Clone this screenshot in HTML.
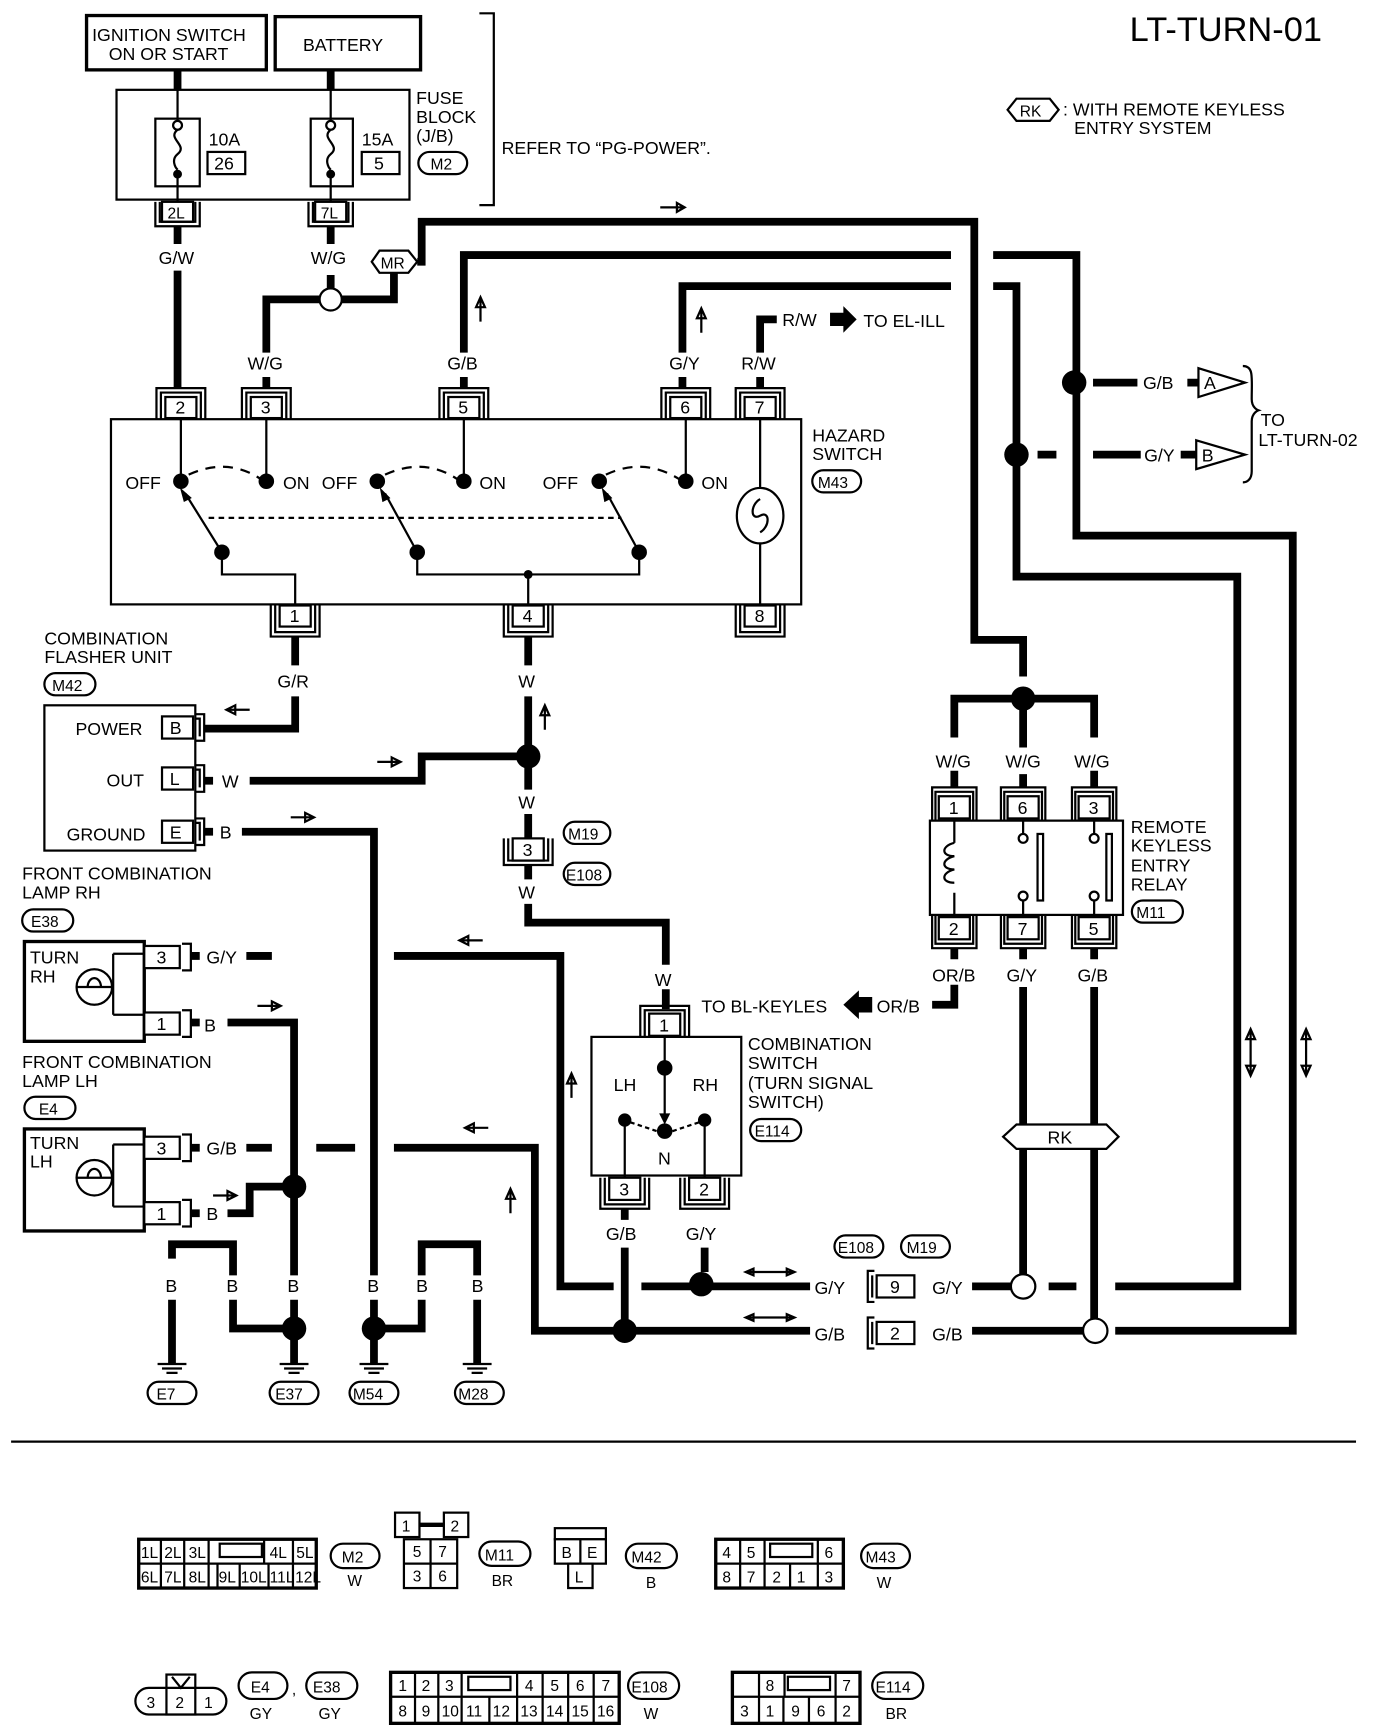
<!DOCTYPE html>
<html><head><meta charset="utf-8"><style>
html,body{margin:0;padding:0;background:#fff}
svg{display:block}
text{font-family:"Liberation Sans",sans-serif;fill:#000}
.t{font-size:16px}
.s{font-size:14px}
.w{stroke:#000;stroke-width:7;fill:none}
.n{stroke:#000;stroke-width:2;fill:none}
.b{stroke:#000;stroke-width:2;fill:#fff}
</style></head><body>
<svg width="1376" height="1730" viewBox="0 0 1240 1560" preserveAspectRatio="none" xmlns="http://www.w3.org/2000/svg">
<text x="1018" y="37" style="font-size:31px">LT-TURN-01</text>
<polygon points="908,99 916,89 946,89 954,99 946,109 916,109" class="b"/>
<text x="919" y="105" class="s">RK</text>
<text x="958" y="104" class="t">: WITH REMOTE KEYLESS</text>
<text x="968" y="121" class="t">ENTRY SYSTEM</text>

<rect x="78" y="14" width="162" height="49" class="b" style="stroke-width:3"/>
<text x="83" y="37" class="t">IGNITION SWITCH</text><text x="98" y="54" class="t">ON OR START</text>
<rect x="248" y="15" width="131" height="48" class="b" style="stroke-width:3"/>
<text x="273" y="46" class="t">BATTERY</text>
<path d="M160,63V81M298,63V81" class="w"/>
<rect x="105" y="81" width="264" height="99" class="b"/>
<rect x="140" y="107" width="40" height="61" class="b"/>
<rect x="280" y="107" width="38" height="61" class="b"/>
<path d="M160,81V112M160,158V182M298,81V112M298,158V182" class="n"/>
<circle cx="160" cy="113" r="4" class="b"/><circle cx="160" cy="157" r="4" fill="#000"/>
<circle cx="298" cy="113" r="4" class="b"/><circle cx="298" cy="157" r="4" fill="#000"/>
<path d="M160,117 c-10,8 10,14 0,22 c-6,5 -2,12 0,14 M298,117 c-10,8 10,14 0,22 c-6,5 -2,12 0,14" class="n"/>
<text x="188" y="131" class="t">10A</text><rect x="187" y="137" width="34" height="20" class="b"/><text x="193" y="153" class="t">26</text>
<text x="326" y="131" class="t">15A</text><rect x="326" y="137" width="34" height="20" class="b"/><text x="337" y="153" class="t">5</text>
<text x="375" y="94" class="t">FUSE</text><text x="375" y="111" class="t">BLOCK</text><text x="375" y="128" class="t">(J/B)</text>
<rect x="377" y="137" width="44" height="20" rx="10" class="b"/><text x="388" y="153" class="s">M2</text>
<path d="M432,12H445V185H432" class="n"/>
<text x="452" y="139" class="t">REFER TO “PG-POWER”.</text>

<g class="n">
<rect x="146" y="182" width="28" height="18" class="b"/><path d="M140,182V204H180V182M144,182V200H176V182"/>
<rect x="284" y="182" width="28" height="18" class="b"/><path d="M278,182V204H318V182M282,182V200H314V182"/>
</g>
<text x="151" y="197" class="s">2L</text><text x="289" y="197" class="s">7L</text>

<path d="M160,204V220M160,244V350" class="w"/>
<text x="143" y="238" class="t">G/W</text>
<path d="M298,204V220M298,248V260" class="w"/>
<text x="280" y="238" class="t">W/G</text>
<circle cx="298" cy="270" r="10" class="b"/>
<path d="M288,270H240V318M240,340V350M308,270H355V246" class="w"/>
<text x="223" y="333" class="t">W/G</text>
<polygon points="335,236 342,226 368,226 376,236 368,246 342,246" class="b"/>
<text x="343" y="242" class="s">MR</text>
<path d="M376,236H380V200H878V577H922V610" class="w"/>
<path d="M595,187H615M610,183L617,187L610,191Z" class="n"/>
<path d="M418,350V340M418,318V230H857M895,230H970V483H1165V1200H1005" class="w"/>
<text x="403" y="333" class="t">G/B</text>
<path d="M433,290V270M429,277L433,268L437,277Z" class="n"/>
<path d="M615,350V340M615,318V258H857M895,258H916V520H1115V1160H1005" class="w"/>
<text x="603" y="333" class="t">G/Y</text>
<path d="M632,300V280M628,287L632,278L636,287Z" class="n"/>
<path d="M685,350V340M685,318V288H700" class="w"/>
<text x="668" y="333" class="t">R/W</text>
<text x="705" y="294" class="t">R/W</text>
<polygon points="748,282 760,282 760,276 772,288 760,300 760,294 748,294" fill="#000"/>
<text x="778" y="295" class="t">TO EL-ILL</text>
<circle cx="968" cy="345" r="11" fill="#000"/>
<path d="M985,345H1025M1070,345H1080" class="w"/>
<text x="1030" y="351" class="t">G/B</text>
<polygon points="1080,332 1122,345 1080,358" class="b"/><text x="1085" y="351" class="t">A</text>
<circle cx="916" cy="410" r="11" fill="#000"/>
<path d="M935,410H952M985,410H1028M1064,410H1078" class="w"/>
<text x="1031" y="416" class="t">G/Y</text>
<polygon points="1078,397 1122,410 1078,423" class="b"/><text x="1083" y="416" class="t">B</text>
<path d="M1120,330C1130,330 1128,340 1128,360C1128,368 1134,370 1134,370C1134,370 1128,372 1128,380V425C1128,432 1124,435 1120,435" class="n"/>
<text x="1136" y="384" class="t">TO</text><text x="1134" y="402" class="t">LT-TURN-02</text>

<g>
<rect x="100" y="378" width="622" height="167" class="b"/>
<g class="n">
<rect x="149" y="358" width="28" height="19" class="b"/><path d="M141,378V350H185V378M145,378V354H181V378"/>
<rect x="226" y="358" width="28" height="19" class="b"/><path d="M218,378V350H262V378M222,378V354H258V378"/>
<rect x="404" y="358" width="28" height="19" class="b"/><path d="M396,378V350H440V378M400,378V354H436V378"/>
<rect x="604" y="358" width="28" height="19" class="b"/><path d="M596,378V350H640V378M600,378V354H636V378"/>
<rect x="671" y="358" width="28" height="19" class="b"/><path d="M663,378V350H707V378M667,378V354H703V378"/>
<rect x="252" y="546" width="28" height="19" class="b"/><path d="M244,546V574H288V546M248,546V570H284V546"/>
<rect x="462" y="546" width="28" height="19" class="b"/><path d="M454,546V574H498V546M458,546V570H494V546"/>
<rect x="671" y="546" width="28" height="19" class="b"/><path d="M663,546V574H707V546M667,546V570H703V546"/>
</g>
<g class="t"><text x="158" y="373">2</text><text x="235" y="373">3</text><text x="413" y="373">5</text><text x="613" y="373">6</text><text x="680" y="373">7</text>
<text x="261" y="561">1</text><text x="471" y="561">4</text><text x="680" y="561">8</text></g>
<path d="M163,378V434M240,378V434M418,378V434M618,378V434M685,378V545" class="n"/>
<path d="M170,428Q205,412 235,432M347,428Q382,412 412,432M546,428Q580,412 612,432" class="n" stroke-dasharray="9,7"/>
<circle cx="163" cy="434" r="7" fill="#000"/><circle cx="240" cy="434" r="7" fill="#000"/>
<circle cx="340" cy="434" r="7" fill="#000"/><circle cx="418" cy="434" r="7" fill="#000"/>
<circle cx="540" cy="434" r="7" fill="#000"/><circle cx="618" cy="434" r="7" fill="#000"/>
<g class="t"><text x="113" y="441">OFF</text><text x="255" y="441">ON</text><text x="290" y="441">OFF</text><text x="432" y="441">ON</text><text x="489" y="441">OFF</text><text x="632" y="441">ON</text></g>
<path d="M200,498L167,445M376,498L347,445M576,498L547,445" class="n"/>
<path d="M163,441L172,449L166,452ZM343,441L351,449L345,452ZM543,441L551,449L545,452Z" fill="#000" stroke="#000"/>
<path d="M188,467H560" class="n" stroke-dasharray="5,4"/>
<circle cx="200" cy="498" r="7" fill="#000"/><circle cx="376" cy="498" r="7" fill="#000"/><circle cx="576" cy="498" r="7" fill="#000"/>
<path d="M200,498V518H266V546M376,498V518H576V498M476,518V546" class="n"/>
<circle cx="476" cy="518" r="4" fill="#000"/>
<ellipse cx="685" cy="465" rx="21" ry="25" class="b"/>
<path d="M685,450c-9,5 -9,20 0,15c9,-5 9,10 0,15" class="n"/>
<text x="732" y="398" class="t">HAZARD</text><text x="732" y="415" class="t">SWITCH</text>
<rect x="732" y="424" width="44" height="20" rx="10" class="b"/><text x="737" y="440" class="s">M43</text>
</g>

<text x="40" y="581" class="t">COMBINATION</text><text x="40" y="598" class="t">FLASHER UNIT</text>
<rect x="40" y="607" width="46" height="20" rx="10" class="b"/><text x="47" y="623" class="s">M42</text>
<rect x="40" y="636" width="136" height="131" class="b"/>
<g class="n">
<rect x="146" y="646" width="28" height="20" class="b"/><path d="M176,644H184V668H176M176,648H180V664"/>
<rect x="146" y="692" width="28" height="20" class="b"/><path d="M176,690H184V714H176M176,694H180V710"/>
<rect x="146" y="740" width="28" height="20" class="b"/><path d="M176,738H184V762H176M176,742H180V758"/>
</g>
<g class="t"><text x="68" y="663">POWER</text><text x="153" y="662">B</text>
<text x="96" y="709">OUT</text><text x="153" y="708">L</text>
<text x="60" y="758">GROUND</text><text x="153" y="756">E</text></g>
<path d="M266,574V600M266,628V657H184" class="w"/>
<text x="250" y="620" class="t">G/R</text>
<path d="M225,640H205M212,636L204,640L212,644Z" class="n"/>
<path d="M184,704H192M225,704H380V682H476" class="w"/>
<text x="200" y="710" class="t">W</text>
<path d="M340,687H360M353,683L361,687L353,691Z" class="n"/>
<path d="M476,574V600M476,628V712M476,734V756" class="w"/>
<text x="467" y="620" class="t">W</text>
<path d="M491,658V638M487,645L491,636L495,645Z" class="n"/>
<circle cx="476" cy="682" r="11" fill="#000"/>
<text x="467" y="729" class="t">W</text>
<path d="M184,750H192M218,750H337V1150M337,1172V1190" class="w"/>
<text x="198" y="756" class="t">B</text>
<path d="M262,737H282M275,733L283,737L275,741Z" class="n"/>
<g class="n"><rect x="462" y="756" width="28" height="20" class="b"/><path d="M454,756V780H498V756M458,756V776H494V756"/></g>
<text x="471" y="772" class="t">3</text>
<rect x="508" y="741" width="42" height="20" rx="10" class="b"/><text x="512" y="757" class="s">M19</text>
<rect x="508" y="778" width="42" height="20" rx="10" class="b"/><text x="510" y="794" class="s">E108</text>
<path d="M476,780V793M476,815V832H600V870M600,892V910" class="w"/>
<text x="467" y="810" class="t">W</text><text x="590" y="889" class="t">W</text>

<text x="20" y="793" class="t">FRONT COMBINATION</text><text x="20" y="810" class="t">LAMP RH</text>
<rect x="20" y="820" width="46" height="20" rx="10" class="b"/><text x="28" y="836" class="s">E38</text>
<rect x="22" y="849" width="108" height="90" class="b" style="stroke-width:3"/>
<path d="M102,860H130V915H102" class="n"/><circle cx="85" cy="890" r="16" class="b"/>
<path d="M79,890a6,8 0 1 1 12,0" class="n"/><path d="M69,890H102V860M102,890V915" class="n"/>
<text x="27" y="869" class="t">TURN</text><text x="27" y="886" class="t">RH</text>
<g class="n"><rect x="130" y="853" width="32" height="20" class="b"/><rect x="130" y="913" width="32" height="20" class="b"/>
<path d="M164,851H172V875H164M164,911H172V935H164"/></g>
<text x="141" y="869" class="t">3</text><text x="141" y="929" class="t">1</text>
<text x="186" y="869" class="t">G/Y</text><text x="184" y="930" class="t">B</text>
<path d="M172,862H180M222,862H245M355,862H505V1160H553M578,1160H730" class="w"/>
<path d="M172,922H180M205,922H265V1150M265,1172V1190" class="w"/>
<path d="M435,848H415M422,844L414,848L422,852Z" class="n"/>
<path d="M232,907H252M245,903L253,907L245,911Z" class="n"/>
<text x="20" y="963" class="t">FRONT COMBINATION</text><text x="20" y="980" class="t">LAMP LH</text>
<rect x="22" y="989" width="46" height="20" rx="10" class="b"/><text x="35" y="1005" class="s">E4</text>
<rect x="22" y="1018" width="108" height="92" class="b" style="stroke-width:3"/>
<path d="M102,1032H130V1088H102" class="n"/><circle cx="85" cy="1062" r="16" class="b"/>
<path d="M79,1062a6,8 0 1 1 12,0" class="n"/><path d="M69,1062H102V1032M102,1062V1088" class="n"/>
<text x="27" y="1036" class="t">TURN</text><text x="27" y="1053" class="t">LH</text>
<g class="n"><rect x="130" y="1025" width="32" height="20" class="b"/><rect x="130" y="1084" width="32" height="20" class="b"/>
<path d="M164,1023H172V1047H164M164,1082H172V1106H164"/></g>
<text x="141" y="1041" class="t">3</text><text x="141" y="1100" class="t">1</text>
<text x="186" y="1041" class="t">G/B</text><text x="186" y="1100" class="t">B</text>
<path d="M172,1035H180M222,1035H245M285,1035H320M355,1035H482V1200H730" class="w"/>
<path d="M172,1094H180M205,1094H225V1070H265" class="w"/>
<path d="M440,1017H420M427,1013L419,1017L427,1021Z" class="n"/>
<path d="M192,1078H212M205,1074L213,1078L205,1082Z" class="n"/>
<path d="M460,1094V1074M456,1081L460,1072L464,1081Z" class="n"/>
<path d="M515,990V970M511,977L515,968L519,977Z" class="n"/>
<circle cx="265" cy="1070" r="11" fill="#000"/>

<path d="M155,1135V1122H210V1150M210,1172V1198H265M265,1198V1230M337,1198V1230M337,1198H380V1172M380,1150V1122H430V1150M430,1172V1230M155,1172V1230" class="w"/>
<g class="t"><text x="149" y="1165">B</text><text x="204" y="1165">B</text><text x="259" y="1165">B</text><text x="331" y="1165">B</text><text x="375" y="1165">B</text><text x="425" y="1165">B</text></g>
<circle cx="265" cy="1198" r="11" fill="#000"/><circle cx="337" cy="1198" r="11" fill="#000"/>
<g class="n"><path d="M142,1230H168M146,1234H164M150,1238H160M252,1230H278M256,1234H274M260,1238H270M324,1230H350M328,1234H346M332,1238H342M417,1230H443M421,1234H439M425,1238H435"/></g>
<rect x="133" y="1246" width="44" height="20" rx="10" class="b"/><text x="141" y="1262" class="s">E7</text>
<rect x="243" y="1246" width="44" height="20" rx="10" class="b"/><text x="248" y="1262" class="s">E37</text>
<rect x="315" y="1246" width="44" height="20" rx="10" class="b"/><text x="318" y="1262" class="s">M54</text>
<rect x="410" y="1246" width="44" height="20" rx="10" class="b"/><text x="413" y="1262" class="s">M28</text>

<text x="632" y="913" class="t">TO BL-KEYLES</text>
<polygon points="786,899 774,899 774,893 760,906 774,919 774,913 786,913" fill="#000"/>
<text x="790" y="913" class="t">OR/B</text>
<path d="M840,906H860V888" class="w"/>
<g class="n"><rect x="585" y="914" width="28" height="20" class="b"/><path d="M577,935V907H621V935M581,935V911H617V935"/>
<rect x="549" y="1062" width="28" height="20" class="b"/><path d="M541,1062V1090H585V1062M545,1062V1086H581V1062"/>
<rect x="621" y="1062" width="28" height="20" class="b"/><path d="M613,1062V1090H657V1062M617,1062V1086H653V1062"/></g>
<text x="594" y="930" class="t">1</text><text x="558" y="1078" class="t">3</text><text x="630" y="1078" class="t">2</text>
<rect x="533" y="935" width="135" height="125" class="b"/>
<path d="M599,935V1012M563,1010V1062M635,1010V1062" class="n"/>
<path d="M594,1004L599,1014L604,1004Z" fill="#000"/>
<circle cx="599" cy="963" r="7" fill="#000"/><circle cx="599" cy="1020" r="7" fill="#000"/>
<circle cx="563" cy="1010" r="6" fill="#000"/><circle cx="635" cy="1010" r="6" fill="#000"/>
<path d="M568,1012L592,1020M606,1020L630,1012" class="n" stroke-dasharray="4,3"/>
<text x="553" y="984" class="t">LH</text><text x="624" y="984" class="t">RH</text><text x="593" y="1050" class="t">N</text>
<text x="674" y="947" class="t">COMBINATION</text><text x="674" y="964" class="t">SWITCH</text><text x="674" y="982" class="t">(TURN SIGNAL</text><text x="674" y="999" class="t">SWITCH)</text>
<rect x="676" y="1009" width="46" height="20" rx="10" class="b"/><text x="680" y="1025" class="s">E114</text>
<path d="M563,1090V1100M563,1125V1200M635,1125V1147" class="w"/>
<text x="546" y="1118" class="t">G/B</text><text x="618" y="1118" class="t">G/Y</text>
<circle cx="632" cy="1158" r="11" fill="#000"/><circle cx="563" cy="1200" r="11" fill="#000"/>
<path d="M672,1147H716M672,1147l7,-3v6zM716,1147l-7,-3v6zM672,1188H716M672,1188l7,-3v6zM716,1188l-7,-3v6z" class="n" fill="#000"/>
<text x="734" y="1167" class="t">G/Y</text>
<text x="734" y="1209" class="t">G/B</text>
<g class="n"><rect x="790" y="1150" width="34" height="20" class="b"/><path d="M788,1146H782V1174H788M786,1150V1170"/>
<rect x="790" y="1192" width="34" height="20" class="b"/><path d="M788,1188H782V1216H788M786,1192V1212"/></g>
<text x="802" y="1166" class="t">9</text><text x="802" y="1208" class="t">2</text>
<path d="M876,1160H911M945,1160H970M876,1200H976" class="w"/>
<text x="840" y="1167" class="t">G/Y</text><text x="840" y="1209" class="t">G/B</text>
<rect x="752" y="1114" width="44" height="20" rx="10" class="b"/><text x="755" y="1130" class="s">E108</text>
<rect x="812" y="1114" width="44" height="20" rx="10" class="b"/><text x="817" y="1130" class="s">M19</text>

<path d="M922,640V674M922,698V710M922,630H860V665M860,695V710M922,630H986V665M986,695V710" class="w"/>
<circle cx="922" cy="630" r="11" fill="#000"/>
<text x="843" y="692" class="t">W/G</text><text x="906" y="692" class="t">W/G</text><text x="968" y="692" class="t">W/G</text>
<rect x="838" y="740" width="174" height="85" class="b"/>
<g class="n">
<rect x="846" y="718" width="28" height="20" class="b"/><path d="M840,740V710H880V740M843,740V714H877V740"/>
<rect x="908" y="718" width="28" height="20" class="b"/><path d="M902,740V710H942V740M905,740V714H939V740"/>
<rect x="972" y="718" width="28" height="20" class="b"/><path d="M966,740V710H1006V740M969,740V714H1003V740"/>
<rect x="846" y="827" width="28" height="20" class="b"/><path d="M840,825V855H880V825M843,825V851H877V825"/>
<rect x="908" y="827" width="28" height="20" class="b"/><path d="M902,825V855H942V825M905,825V851H939V825"/>
<rect x="972" y="827" width="28" height="20" class="b"/><path d="M966,825V855H1006V825M969,825V851H1003V825"/>
</g>
<g class="t"><text x="855" y="734">1</text><text x="917" y="734">6</text><text x="981" y="734">3</text><text x="855" y="843">2</text><text x="917" y="843">7</text><text x="981" y="843">5</text></g>
<path d="M860,740V760M860,805V825M922,740V752M922,812V825M986,740V752M986,812V825" class="n"/>
<path d="M860,760c-12,3 -12,12 0,12c-12,3 -12,12 0,12c-12,3 -12,12 0,12" class="n"/>
<circle cx="922" cy="756" r="4" class="b"/><circle cx="922" cy="808" r="4" class="b"/>
<circle cx="986" cy="756" r="4" class="b"/><circle cx="986" cy="808" r="4" class="b"/>
<rect x="935" y="752" width="5" height="60" class="b"/><rect x="997" y="752" width="5" height="60" class="b"/>
<text x="1019" y="751" class="t">REMOTE</text><text x="1019" y="768" class="t">KEYLESS</text><text x="1019" y="786" class="t">ENTRY</text><text x="1019" y="803" class="t">RELAY</text>
<rect x="1020" y="812" width="46" height="20" rx="10" class="b"/><text x="1024" y="828" class="s">M11</text>
<path d="M860,855V865M922,855V865M986,855V865M922,890V1150M986,890V1190" class="w"/>
<text x="840" y="885" class="t">OR/B</text><text x="907" y="885" class="t">G/Y</text><text x="971" y="885" class="t">G/B</text>
<polygon points="904,1025 916,1014 997,1014 1008,1025 997,1036 916,1036" class="b"/>
<text x="944" y="1031" class="t">RK</text>
<circle cx="922" cy="1160" r="11" class="b"/><circle cx="987" cy="1200" r="11" class="b"/>
<path d="M1127,930V968M1123,937L1127,928L1131,937ZM1123,961L1127,970L1131,961ZM1177,930V968M1173,937L1177,928L1181,937ZM1173,961L1177,970L1181,961Z" class="n" fill="#000"/>

<path d="M10,1300H1222" class="n"/>

<g class="s">
<rect x="125" y="1388" width="160" height="44" class="b" style="stroke-width:3"/>
<path d="M125,1410H285M145,1388V1432M166,1388V1432M188,1388V1432M196,1410V1432M216,1410V1432M238,1410V1388M242,1410V1432M264,1388V1432" class="n"/>
<rect x="198" y="1392" width="38" height="12" class="b"/>
<text x="127" y="1405">1L</text><text x="148" y="1405">2L</text><text x="170" y="1405">3L</text><text x="243" y="1405">4L</text><text x="267" y="1405">5L</text>
<text x="127" y="1427">6L</text><text x="148" y="1427">7L</text><text x="170" y="1427">8L</text><text x="197" y="1427">9L</text><text x="217" y="1427">10L</text><text x="243" y="1427">11L</text><text x="266" y="1427">12L</text>
<rect x="298" y="1392" width="44" height="22" rx="11" class="b"/><text x="308" y="1409">M2</text><text x="313" y="1430">W</text>

<rect x="356" y="1364" width="22" height="22" class="b"/><rect x="400" y="1364" width="22" height="22" class="b"/>
<path d="M378,1375H400" class="w" style="stroke-width:4"/>
<rect x="364" y="1388" width="48" height="44" class="b"/><path d="M364,1410H412M388,1388V1432" class="n"/>
<text x="362" y="1381">1</text><text x="406" y="1381">2</text>
<text x="372" y="1404">5</text><text x="395" y="1404">7</text><text x="372" y="1426">3</text><text x="395" y="1426">6</text>
<rect x="432" y="1390" width="46" height="22" rx="11" class="b"/><text x="437" y="1407">M11</text><text x="443" y="1430">BR</text>

<rect x="500" y="1378" width="46" height="10" class="b"/>
<rect x="500" y="1388" width="46" height="22" class="b"/><path d="M523,1388V1410" class="n"/>
<rect x="512" y="1410" width="22" height="22" class="b"/>
<text x="506" y="1405">B</text><text x="529" y="1405">E</text><text x="518" y="1427">L</text>
<rect x="564" y="1392" width="46" height="22" rx="11" class="b"/><text x="569" y="1409">M42</text><text x="582" y="1432">B</text>

<rect x="645" y="1388" width="115" height="44" class="b" style="stroke-width:3"/>
<path d="M645,1410H760M667,1388V1432M689,1388V1432M737,1388V1432M712,1410V1432" class="n"/>
<rect x="694" y="1392" width="38" height="12" class="b"/>
<text x="651" y="1405">4</text><text x="673" y="1405">5</text><text x="743" y="1405">6</text>
<text x="651" y="1427">8</text><text x="673" y="1427">7</text><text x="696" y="1427">2</text><text x="718" y="1427">1</text><text x="743" y="1427">3</text>
<rect x="776" y="1392" width="44" height="22" rx="11" class="b"/><text x="780" y="1409">M43</text><text x="790" y="1432">W</text>

<rect x="122" y="1522" width="82" height="24" rx="12" class="b"/>
<rect x="150" y="1510" width="26" height="36" class="b"/>
<path d="M150,1522H176M155,1512L163,1522L171,1512" class="n"/>
<text x="132" y="1540">3</text><text x="158" y="1540">2</text><text x="184" y="1540">1</text>
<rect x="215" y="1508" width="44" height="24" rx="12" class="b"/><text x="226" y="1526">E4</text><text x="225" y="1550">GY</text>
<text x="263" y="1528">,</text>
<rect x="276" y="1508" width="46" height="24" rx="12" class="b"/><text x="282" y="1526">E38</text><text x="287" y="1550">GY</text>

<rect x="352" y="1508" width="206" height="46" class="b" style="stroke-width:3"/>
<path d="M352,1530H558M374,1508V1554M395,1508V1554M416,1508V1554M441,1530V1554M466,1508V1554M489,1508V1554M512,1508V1554M535,1508V1554" class="n"/>
<rect x="422" y="1512" width="38" height="12" class="b"/>
<text x="359" y="1525">1</text><text x="380" y="1525">2</text><text x="401" y="1525">3</text><text x="473" y="1525">4</text><text x="496" y="1525">5</text><text x="519" y="1525">6</text><text x="542" y="1525">7</text>
<text x="359" y="1548">8</text><text x="380" y="1548">9</text><text x="398" y="1548">10</text><text x="420" y="1548">11</text><text x="444" y="1548">12</text><text x="469" y="1548">13</text><text x="492" y="1548">14</text><text x="515" y="1548">15</text><text x="538" y="1548">16</text>
<rect x="566" y="1508" width="46" height="24" rx="12" class="b"/><text x="569" y="1526">E108</text><text x="580" y="1550">W</text>

<rect x="660" y="1508" width="115" height="46" class="b" style="stroke-width:3"/>
<path d="M660,1530H775M684,1508V1554M707,1508V1530M753,1508V1554M706,1530V1554M729,1530V1554" class="n"/>
<rect x="710" y="1512" width="38" height="12" class="b"/>
<text x="690" y="1525">8</text><text x="759" y="1525">7</text>
<text x="667" y="1548">3</text><text x="690" y="1548">1</text><text x="713" y="1548">9</text><text x="736" y="1548">6</text><text x="759" y="1548">2</text>
<rect x="786" y="1508" width="46" height="24" rx="12" class="b"/><text x="789" y="1526">E114</text><text x="798" y="1550">BR</text>
</g>
</svg>
</body></html>
